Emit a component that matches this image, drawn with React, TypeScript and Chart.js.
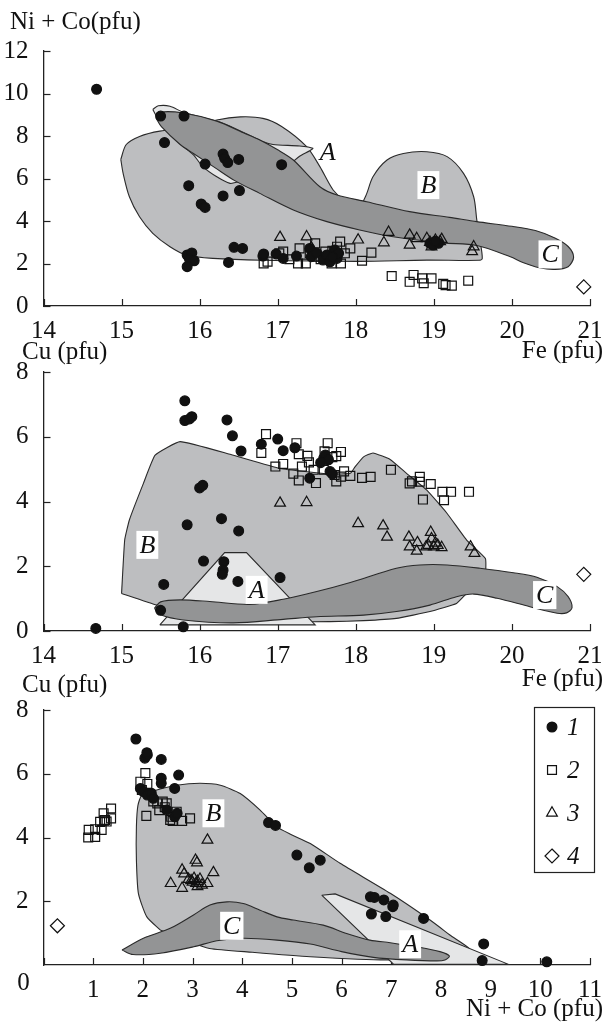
import React, { useEffect, useRef } from 'react';
import { Chart, registerables } from 'chart.js';

Chart.register(...registerables);

type P = [number, number];
const SERIF = '"Liberation Serif", "Times New Roman", Times, serif';

// ---------------- Panel 1 : Ni+Co (pfu) vs Fe (pfu)
const p1XTicks = [14, 15, 16, 17, 18, 19, 20, 21];
const p1YTicks = [0, 2, 4, 6, 8, 10, 12];
const p1Type1: P[] = [[14.68,10.2],[15.50,8.94],[15.80,8.94],[15.55,7.69],[16.30,7.15],[16.32,6.95],[16.36,6.75],[16.50,6.9],[16.07,6.68],[17.05,6.65],[15.86,5.66],[16.02,4.8],[16.07,4.64],[16.30,5.18],[16.51,5.43],[16.44,2.76],[16.55,2.71],[16.37,2.05],[15.84,2.4],[15.90,2.5],[15.87,2.2],[15.93,2.13],[15.84,1.85],[16.81,2.35],[16.82,2.45],[16.98,2.45],[17.07,2.24],[17.24,2.35],[17.41,2.71],[17.43,2.32],[17.5,2.5],[17.58,2.16],[17.63,2.4],[17.67,2.08],[17.73,2.64],[17.76,2.24],[17.78,2.48],[17.7,2.3],[18.95,2.95],[18.99,2.87],[19.06,2.95],[19.02,3.05]];
const p1Type2: P[] = [[16.82,2.0],[16.87,2.09],[17.02,2.48],[17.07,2.56],[17.26,2.0],[17.28,2.71],[17.36,2.0],[17.41,2.48],[17.48,2.95],[17.51,2.32],[17.61,2.56],[17.69,2.0],[17.76,2.79],[17.80,3.03],[17.81,2.0],[17.86,2.48],[17.93,2.71],[18.08,2.13],[18.20,2.51],[18.46,1.41],[18.69,1.14],[18.74,1.46],[18.85,1.30],[18.87,1.07],[18.97,1.30],[19.12,1.04],[19.15,0.98],[19.23,0.96],[19.44,1.19],[17.15,2.2],[17.55,2.2],[17.7,2.6]];
const p1Type3: P[] = [[17.03,3.23],[17.37,3.26],[17.43,2.75],[18.03,3.11],[18.36,2.98],[18.42,3.47],[18.69,2.87],[18.69,3.34],[18.78,3.18],[18.91,3.18],[18.97,2.79],[19.02,3.1],[19.08,3.03],[19.10,3.14],[18.95,3.0],[19.49,2.56],[19.51,2.79]];
const p1Type4: P[] = [[20.92,0.9]];
const p1RegionB: P[] = [[14.99,6.9],[15.06,7.6],[15.23,7.98],[15.49,8.23],[15.9,8.4],[16.22,8.75],[16.52,8.9],[16.81,8.83],[17.05,8.45],[17.37,7.5],[17.54,6.56],[17.71,5.46],[17.85,5.0],[18.05,4.75],[18.13,5.2],[18.22,6.08],[18.40,6.87],[18.61,7.18],[18.91,7.26],[19.17,7.03],[19.38,6.24],[19.51,5.14],[19.55,4.05],[19.59,3.1],[19.62,2.24],[19.58,2.15],[18.91,2.16],[18.05,2.1],[16.8,2.15],[16.17,2.24],[15.83,2.4],[15.62,2.79],[15.40,3.42],[15.23,4.2],[15.10,5.14],[15.02,6.24]];
const p1RegionA: P[] = [[15.40,9.25],[15.47,9.42],[15.62,9.40],[15.8,9.1],[16.3,8.6],[16.8,7.75],[16.94,7.6],[17.28,7.53],[17.45,7.42],[17.41,7.31],[17.28,7.05],[17.2,6.8],[17.0,6.2],[16.6,5.85],[16.47,5.82],[16.39,5.77],[16.22,6.08],[16.04,6.56],[15.92,7.11],[15.7,7.8],[15.5,8.6]];
const p1RegionC: P[] = [[15.44,8.85],[15.50,9.12],[15.79,9.08],[16.22,8.7],[16.56,8.15],[16.77,7.81],[17.0,7.35],[17.2,6.87],[17.54,5.61],[17.76,5.22],[18.14,4.91],[18.69,4.44],[19.2,4.17],[19.55,3.97],[20.0,3.75],[20.3,3.55],[20.55,3.2],[20.72,2.8],[20.79,2.3],[20.72,1.85],[20.55,1.72],[20.35,1.8],[20.14,2.05],[19.98,2.32],[19.55,2.85],[19.12,2.97],[18.48,3.26],[18.05,3.58],[17.63,3.97],[17.20,4.52],[16.77,5.30],[16.45,5.9],[16.2,6.5],[15.92,7.18],[15.75,7.6],[15.51,8.44]];
const p1Letters = [
  { t: 'A', x: 17.64, y: 7.26, box: false },
  { t: 'B', x: 18.93, y: 5.69, box: true },
  { t: 'C', x: 20.49, y: 2.43, box: true },
];

// ---------------- Panel 2 : Cu (pfu) vs Fe (pfu)
const p2XTicks = [14, 15, 16, 17, 18, 19, 20, 21];
const p2YTicks = [0, 2, 4, 6, 8];
const p2Type1: P[] = [[14.67,0.08],[15.81,7.11],[15.81,6.5],[15.87,6.55],[15.90,6.62],[16.35,6.52],[16.42,6.03],[16.53,5.56],[16.79,5.77],[17.0,5.93],[17.07,5.57],[17.22,5.66],[17.41,4.72],[17.59,5.34],[17.61,5.44],[17.65,5.29],[17.67,4.93],[17.55,5.2],[17.7,4.85],[16.0,4.42],[16.04,4.5],[15.84,3.28],[16.28,3.47],[16.50,3.09],[16.05,2.16],[16.31,2.14],[16.30,1.88],[16.29,1.75],[16.49,1.53],[17.03,1.65],[15.54,1.44],[15.50,0.64],[15.79,0.13]];
const p2Type2: P[] = [[16.85,6.08],[16.79,5.5],[16.97,5.08],[17.07,5.16],[17.24,5.8],[17.27,5.46],[17.20,4.86],[17.27,4.65],[17.38,5.41],[17.40,5.21],[17.31,5.08],[17.46,4.98],[17.49,4.57],[17.59,4.98],[17.64,5.8],[17.60,5.55],[17.70,5.37],[17.75,5.4],[17.81,5.53],[17.73,4.82],[17.75,4.62],[17.81,4.77],[17.85,4.93],[17.93,4.79],[18.08,4.73],[18.19,4.76],[18.45,4.98],[18.69,4.56],[18.72,4.62],[18.82,4.76],[18.82,4.61],[18.86,4.06],[18.96,4.54],[19.11,4.3],[19.13,4.04],[19.22,4.3],[19.45,4.3]];
const p2Type3: P[] = [[17.03,3.95],[17.37,3.97],[18.03,3.32],[18.35,3.25],[18.40,2.9],[18.68,2.9],[18.69,2.6],[18.79,2.73],[18.78,2.47],[18.96,3.05],[18.97,2.85],[18.93,2.65],[19.0,2.6],[19.05,2.65],[19.1,2.58],[18.9,2.6],[19.02,2.72],[19.47,2.6],[19.52,2.4]];
const p2Type4: P[] = [[20.92,1.75]];
const p2RegionB: P[] = [[15.0,1.16],[15.04,2.81],[15.10,3.43],[15.28,4.56],[15.43,5.43],[15.75,5.85],[16.4,5.45],[17.03,5.02],[17.67,4.85],[17.93,4.87],[17.99,5.07],[18.10,5.38],[18.22,5.5],[18.44,5.3],[18.65,4.87],[18.91,4.35],[19.17,3.63],[19.42,2.81],[19.66,2.24],[19.66,1.8],[19.55,1.4],[19.42,1.16],[19.29,0.85],[18.95,0.60],[18.52,0.39],[18.10,0.32],[17.67,0.29],[17.0,0.3],[16.0,0.45],[15.45,0.8]];
const p2RegionA: P[] = [[15.49,0.19],[17.48,0.19],[16.60,2.42],[16.32,2.42]];
const p2RegionC: P[] = [[15.42,0.7],[15.5,0.9],[15.75,0.96],[16.13,0.91],[16.64,0.82],[17.07,0.98],[17.50,1.22],[17.93,1.5],[18.52,1.94],[18.82,2.04],[19.17,2.04],[19.59,1.94],[20.02,1.8],[20.32,1.66],[20.58,1.37],[20.72,1.06],[20.77,0.72],[20.70,0.56],[20.58,0.55],[20.23,0.75],[19.81,1.01],[19.51,1.14],[19.29,1.06],[18.95,0.80],[18.52,0.60],[18.10,0.49],[17.50,0.44],[17.07,0.36],[16.43,0.25],[15.79,0.34],[15.5,0.5]];
const p2Letters = [
  { t: 'B', x: 15.33, y: 2.66, box: true },
  { t: 'A', x: 16.73, y: 1.27, box: true },
  { t: 'C', x: 20.42, y: 1.11, box: true },
];

// ---------------- Panel 3 : Cu (pfu) vs Ni+Co (pfu)
const p3XTicks = [0, 1, 2, 3, 4, 5, 6, 7, 8, 9, 10, 11];
const p3YTicks = [2, 4, 6, 8];
const p3Type1: P[] = [[1.86,7.09],[2.04,6.49],[2.09,6.59],[2.08,6.66],[2.37,6.45],[2.37,5.86],[2.37,5.70],[2.72,5.96],[2.64,5.54],[1.95,5.54],[2.01,5.44],[2.09,5.33],[2.17,5.39],[2.21,5.23],[2.48,4.86],[2.64,4.65],[2.69,4.76],[4.53,4.47],[4.67,4.38],[5.10,3.45],[5.35,3.05],[5.57,3.29],[6.58,2.14],[6.66,2.12],[6.85,2.04],[7.03,1.83],[7.04,1.88],[6.89,1.52],[6.60,1.60],[7.65,1.46],[8.86,0.66],[8.83,0.14],[10.13,0.10]];
const p3Type2: P[] = [[0.91,4.24],[0.90,4.0],[1.04,4.02],[1.04,4.26],[1.17,4.24],[1.14,4.49],[1.22,4.53],[1.24,4.55],[1.36,4.6],[1.36,4.91],[1.21,4.76],[1.27,4.5],[1.95,5.75],[2.05,6.02],[1.98,5.49],[2.09,5.68],[2.07,4.68],[2.21,5.13],[2.29,5.07],[2.40,5.13],[2.48,5.07],[2.33,4.86],[2.44,4.95],[2.57,4.65],[2.60,4.52],[2.79,4.52],[2.95,4.6],[2.68,4.81],[2.55,4.55]];
const p3Type3: P[] = [[3.30,3.92],[3.06,3.29],[3.09,3.21],[2.79,2.98],[2.83,2.86],[2.56,2.56],[2.79,2.41],[2.97,2.65],[3.07,2.56],[3.10,2.46],[3.15,2.69],[3.30,2.56],[3.42,2.90],[2.92,2.69],[3.03,2.72],[3.19,2.51],[3.0,2.6],[3.1,2.62]];
const p3Type4: P[] = [[0.28,1.23]];
const p3RegionB: P[] = [[2.35,1.10],[2.08,1.51],[1.91,2.25],[1.87,3.29],[1.87,4.34],[1.90,5.0],[1.98,5.33],[2.28,5.49],[2.68,5.64],[3.15,5.70],[3.56,5.64],[3.96,5.38],[4.36,4.86],[4.69,4.34],[4.96,4.11],[5.37,3.81],[5.97,3.19],[6.98,2.25],[7.78,1.41],[8.18,0.94],[8.58,0.47],[7.6,0.3],[6.93,0.16],[5.37,0.26],[4.2,0.4],[3.34,0.52],[2.9,0.75]];
const p3RegionA: P[] = [[5.60,2.19],[5.87,2.23],[9.36,0.02],[7.05,0.02]];
const p3RegionC: P[] = [[1.58,0.47],[2.01,0.84],[2.55,1.15],[3.02,1.57],[3.35,1.88],[3.69,1.98],[4.02,1.93],[4.36,1.72],[4.70,1.51],[5.03,1.41],[5.63,1.25],[6.10,0.99],[6.57,0.78],[6.98,0.70],[7.51,0.57],[7.98,0.42],[8.17,0.28],[8.08,0.16],[7.92,0.13],[7.31,0.16],[6.64,0.24],[6.0,0.42],[5.37,0.66],[4.70,0.78],[4.02,0.84],[3.49,0.76],[3.02,0.57],[2.35,0.37],[1.8,0.33]];
const p3Letters = [
  { t: 'B', x: 3.42, y: 4.76, box: true },
  { t: 'C', x: 3.79, y: 1.23, box: true },
  { t: 'A', x: 7.38, y: 0.65, box: true },
];

const legendLabels = ['1', '2', '3', '4'];

// ---------------- styles
const INK = '#111111';
const EDGE = '#2a2a2a';
const FILL_B = '#bdbec0';
const FILL_A = '#e5e6e7';
const FILL_C = '#939495';
const FONT_SIZE = 25;
const markerStyles = [
  { style: 'circle', radius: 4.9, filled: true },
  { style: 'rect', radius: 6.3, filled: false },
  { style: 'triangle', radius: 6.2, filled: false },
  { style: 'rectRot', radius: 7, filled: false },
];

const toXY = (pts: P[]) => pts.map(([x, y]) => ({ x, y }));

function regionDs(pts: P[], color: string, order: number, tension: number) {
  return {
    type: 'line',
    data: toXY([...pts, pts[0]]),
    showLine: true,
    fill: 'shape',
    backgroundColor: color,
    borderColor: EDGE,
    borderWidth: 1.1,
    pointRadius: 0,
    pointHoverRadius: 0,
    tension,
    order,
    clip: false,
  };
}

function markDs(pts: P[], i: number) {
  const m = markerStyles[i];
  return {
    type: 'scatter',
    data: toXY(pts),
    pointStyle: m.style,
    pointRadius: m.radius,
    pointHoverRadius: m.radius,
    backgroundColor: m.filled ? INK : 'rgba(0,0,0,0)',
    borderColor: INK,
    borderWidth: 1.2,
    showLine: false,
    order: 0,
    clip: false,
  };
}

const inwardTicks = {
  id: 'inwardTicks',
  beforeDatasetsDraw(chart: any) {
    const { ctx, chartArea, scales } = chart;
    ctx.save();
    ctx.strokeStyle = '#222';
    ctx.lineWidth = 1.2;
    scales.x.ticks.forEach((t: any) => {
      const px = Math.round(scales.x.getPixelForValue(t.value)) + 0.5;
      ctx.beginPath();
      ctx.moveTo(px, chartArea.bottom);
      ctx.lineTo(px, chartArea.bottom - 7);
      ctx.stroke();
    });
    scales.y.ticks.forEach((t: any) => {
      const py = Math.round(scales.y.getPixelForValue(t.value)) + 0.5;
      ctx.beginPath();
      ctx.moveTo(chartArea.left, py);
      ctx.lineTo(chartArea.left + 7, py);
      ctx.stroke();
    });
    ctx.restore();
  },
};

function drawMarker(ctx: CanvasRenderingContext2D, style: string, x: number, y: number, r: number, filled: boolean) {
  ctx.beginPath();
  if (style === 'circle') {
    ctx.arc(x, y, r, 0, Math.PI * 2);
  } else if (style === 'rect') {
    const s = r * Math.SQRT1_2;
    ctx.rect(x - s, y - s, 2 * s, 2 * s);
  } else if (style === 'triangle') {
    for (let k = 0; k < 3; k++) {
      const a = (k * 2 * Math.PI) / 3;
      const px = x + Math.sin(a) * r;
      const py = y - Math.cos(a) * r;
      if (k === 0) ctx.moveTo(px, py); else ctx.lineTo(px, py);
    }
    ctx.closePath();
  } else {
    ctx.moveTo(x, y - r);
    ctx.lineTo(x + r, y);
    ctx.lineTo(x, y + r);
    ctx.lineTo(x - r, y);
    ctx.closePath();
  }
  if (filled) { ctx.fillStyle = INK; ctx.fill(); }
  ctx.strokeStyle = INK;
  ctx.lineWidth = 1.2;
  ctx.stroke();
}

function overlay(letters: { t: string; x: number; y: number; box: boolean }[], extra?: (chart: any) => void) {
  return {
    id: 'overlay',
    afterDatasetsDraw(chart: any) {
      const { ctx, scales } = chart;
      ctx.save();
      ctx.font = `italic 26px ${SERIF}`;
      ctx.textAlign = 'center';
      ctx.textBaseline = 'middle';
      letters.forEach((l) => {
        const px = scales.x.getPixelForValue(l.x);
        const py = scales.y.getPixelForValue(l.y);
        if (l.box) {
          const w = ctx.measureText(l.t).width + 6;
          ctx.fillStyle = '#ffffff';
          ctx.fillRect(px - w / 2, py - 14, w, 28);
        }
        ctx.fillStyle = INK;
        ctx.fillText(l.t, px, py + 1);
      });
      ctx.restore();
      if (extra) extra(chart);
    },
  };
}

function legendAndZero(chart: any) {
  const { ctx, scales, chartArea } = chart;
  ctx.save();
  // the x axis "0", set left of the origin as in the source figure
  ctx.font = `${FONT_SIZE}px ${SERIF}`;
  ctx.fillStyle = INK;
  ctx.textAlign = 'center';
  ctx.textBaseline = 'middle';
  ctx.fillText('0', scales.x.getPixelForValue(0) - 20, chartArea.bottom + 18);
  // legend box
  ctx.strokeStyle = '#222';
  ctx.lineWidth = 1.2;
  ctx.strokeRect(534.5, 42.5, 60, 165);
  ctx.font = `italic ${FONT_SIZE}px ${SERIF}`;
  ctx.textAlign = 'left';
  legendLabels.forEach((lab, i) => {
    const cy = 62 + i * 43;
    const m = markerStyles[i];
    drawMarker(ctx, m.style, 552, cy, m.radius, m.filled);
    ctx.fillStyle = INK;
    ctx.fillText(lab, 567, cy + 1);
  });
  ctx.restore();
}

function axisCommon(ticksArr: number[], min: number, max: number, isX: boolean, size: number, hideZeroLabel = false) {
  return {
    type: 'linear',
    min,
    max,
    afterBuildTicks: (s: any) => { s.ticks = ticksArr.map((v) => ({ value: v })); },
    afterFit: (s: any) => { if (isX) s.height = size; else s.width = size; },
    grid: { display: false },
    border: { display: true, color: '#222', width: 1.3 },
    ticks: {
      autoSkip: false,
      maxRotation: 0,
      padding: isX ? 2 : 7,
      color: INK,
      font: { family: SERIF, size: FONT_SIZE },
      callback: (v: any) => (hideZeroLabel && v === 0 ? '' : String(v)),
    },
  };
}

function makeConfig(
  regions: { B: P[]; A: P[]; C: P[] },
  tensions: [number, number, number],
  types: P[][],
  xT: number[], xMin: number, xMax: number,
  yT: number[], yMin: number, yMax: number,
  padTop: number, xH: number,
  plugin: any,
  hideX0 = false,
) {
  return {
    type: 'scatter',
    data: {
      datasets: [
        ...types.map((t, i) => markDs(t, i)),
        regionDs(regions.C, FILL_C, 1, tensions[2]),
        regionDs(regions.A, FILL_A, 2, tensions[1]),
        regionDs(regions.B, FILL_B, 3, tensions[0]),
      ],
    },
    options: {
      animation: false,
      responsive: false,
      maintainAspectRatio: false,
      events: [],
      layout: { padding: { top: padTop, right: 16, left: 0, bottom: 0 } },
      plugins: { legend: { display: false }, tooltip: { enabled: false } },
      scales: {
        x: axisCommon(xT, xMin, xMax, true, xH, hideX0),
        y: axisCommon(yT, yMin, yMax, false, 43.5),
      },
    },
    plugins: [inwardTicks, plugin],
  } as any;
}

const titleStyle = (extra: React.CSSProperties): React.CSSProperties => ({
  position: 'absolute',
  fontFamily: SERIF,
  fontSize: FONT_SIZE,
  lineHeight: `${FONT_SIZE}px`,
  color: INK,
  whiteSpace: 'nowrap',
  ...extra,
});

export default function App() {
  const r1 = useRef<HTMLCanvasElement>(null);
  const r2 = useRef<HTMLCanvasElement>(null);
  const r3 = useRef<HTMLCanvasElement>(null);

  useEffect(() => {
    document.body.style.margin = '0';
    const c1 = new Chart(r1.current as HTMLCanvasElement, makeConfig(
      { B: p1RegionB, A: p1RegionA, C: p1RegionC }, [0.3, 0.25, 0.3],
      [p1Type1, p1Type2, p1Type3, p1Type4],
      p1XTicks, 14, 21, p1YTicks, 0, 12, 51, 34, overlay(p1Letters)));
    const c2 = new Chart(r2.current as HTMLCanvasElement, makeConfig(
      { B: p2RegionB, A: p2RegionA, C: p2RegionC }, [0.12, 0, 0.3],
      [p2Type1, p2Type2, p2Type3, p2Type4],
      p2XTicks, 14, 21, p2YTicks, 0, 8, 32, 34, overlay(p2Letters)));
    const c3 = new Chart(r3.current as HTMLCanvasElement, makeConfig(
      { B: p3RegionB, A: p3RegionA, C: p3RegionC }, [0.2, 0, 0.3],
      [p3Type1, p3Type2, p3Type3, p3Type4],
      p3XTicks, 0, 11, p3YTicks, 0, 8, 45, 57, overlay(p3Letters, legendAndZero), true));
    return () => { c1.destroy(); c2.destroy(); c3.destroy(); };
  }, []);

  return (
    <div style={{ position: 'relative', width: 606, height: 1022, background: '#ffffff', overflow: 'hidden' }}>
      <canvas ref={r1} width={606} height={340} style={{ position: 'absolute', left: 0, top: 0 }} />
      <canvas ref={r2} width={606} height={325} style={{ position: 'absolute', left: 0, top: 340 }} />
      <canvas ref={r3} width={606} height={357} style={{ position: 'absolute', left: 0, top: 665 }} />
      <div style={titleStyle({ left: 10, top: 8 })}>Ni + Co(pfu)</div>
      <div style={titleStyle({ left: 22, top: 338 })}>Cu (pfu)</div>
      <div style={titleStyle({ right: 3, top: 337 })}>Fe (pfu)</div>
      <div style={titleStyle({ left: 22, top: 671 })}>Cu (pfu)</div>
      <div style={titleStyle({ right: 3, top: 665 })}>Fe (pfu)</div>
      <div style={titleStyle({ right: 3, top: 995 })}>Ni + Co (pfu)</div>
    </div>
  );
}
